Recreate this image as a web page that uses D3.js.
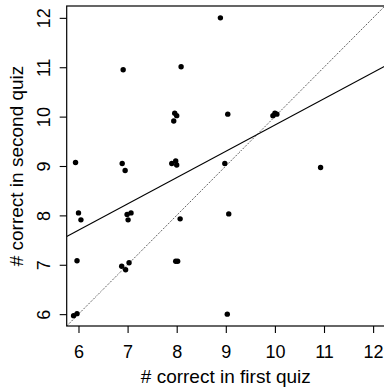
<!DOCTYPE html>
<html>
<head>
<meta charset="utf-8">
<script src="https://cdn.jsdelivr.net/npm/d3@7"></script>
<style>
  html, body { margin: 0; padding: 0; background: #fff; }
  svg { display: block; }
  text { font-family: "Liberation Sans", Arial, Helvetica, sans-serif; fill: #000; }
</style>
</head>
<body>
<svg id="chart" width="384" height="388"></svg>
<script>
// Scores on the two quizzes (slightly jittered so ties stay visible)
const firstQuiz  = [8.89, 6.91, 8.09, 7.96, 8.00, 7.94, 5.94, 6.89, 6.95, 7.90, 7.98, 8.00,
                    6.00, 6.05, 6.99, 7.07, 7.01, 8.07, 5.97, 6.88, 6.96, 7.03, 7.98, 8.02,
                    5.90, 5.97, 9.04, 9.96, 10.00, 10.04, 8.98, 10.93, 9.06, 9.03];
const secondQuiz = [12.00, 10.95, 11.01, 10.07, 10.02, 9.91, 9.07, 9.05, 8.91, 9.05, 9.10, 9.02,
                    8.05, 7.91, 8.02, 8.05, 7.91, 7.93, 7.08, 6.97, 6.90, 7.04, 7.07, 7.07,
                    5.97, 6.01, 10.05, 10.02, 10.07, 10.05, 9.05, 8.97, 8.03, 6.00];
const xTicks = [6, 7, 8, 9, 10, 11, 12];
const yTicks = [6, 7, 8, 9, 10, 11, 12];
const axisRange = [6, 12];
// least-squares fit: intercept, slope
const fitCoef = [4.51, 0.532];

const svg = d3.select("#chart");
const box = { left: 66.7, right: 384.9, top: 6, bottom: 326 };
const pad = 0.04 * (axisRange[1] - axisRange[0]);
const dom = [axisRange[0] - pad, axisRange[1] + pad];

const x = d3.scaleLinear().domain(dom).range([box.left, box.right]);
const y = d3.scaleLinear().domain(dom).range([box.bottom, box.top]);

svg.append("clipPath").attr("id", "plotclip")
  .append("rect")
  .attr("x", box.left).attr("y", box.top)
  .attr("width", box.right - box.left).attr("height", box.bottom - box.top);

const plot = svg.append("g").attr("clip-path", "url(#plotclip)");

// identity line y = x
plot.append("line")
  .attr("x1", x(dom[0])).attr("y1", y(dom[0]))
  .attr("x2", x(dom[1])).attr("y2", y(dom[1]))
  .attr("stroke", "#222").attr("stroke-width", 1)
  .attr("stroke-dasharray", "1,1.4");

// regression line
plot.append("line")
  .attr("x1", x(dom[0])).attr("y1", y(fitCoef[0] + fitCoef[1] * dom[0]))
  .attr("x2", x(dom[1])).attr("y2", y(fitCoef[0] + fitCoef[1] * dom[1]))
  .attr("stroke", "#000").attr("stroke-width", 1.1);

// points
plot.selectAll("circle")
  .data(d3.range(firstQuiz.length))
  .join("circle")
  .attr("cx", i => x(firstQuiz[i]))
  .attr("cy", i => y(secondQuiz[i]))
  .attr("r", 2.7)
  .attr("fill", "#000");

// frame
svg.append("rect")
  .attr("x", box.left).attr("y", box.top)
  .attr("width", box.right - box.left).attr("height", box.bottom - box.top)
  .attr("fill", "none").attr("stroke", "#000").attr("stroke-width", 1.2);

// x axis
const xAxis = svg.append("g")
  .attr("transform", `translate(0,${box.bottom})`)
  .call(d3.axisBottom(x).tickValues(xTicks).tickSize(7).tickSizeOuter(0).tickFormat(d3.format("d")));
xAxis.select(".domain").remove();
xAxis.selectAll("line").attr("stroke", "#000").attr("stroke-width", 1.1);
xAxis.selectAll("text")
  .attr("y", 32).attr("dy", 0)
  .style("font-size", "18px")
  .style("font-family", "'Liberation Sans', Arial, sans-serif");

// y axis with labels parallel to the axis
const yAxis = svg.append("g")
  .attr("transform", `translate(${box.left},0)`)
  .call(d3.axisLeft(y).tickValues(yTicks).tickSize(7).tickSizeOuter(0).tickFormat(d3.format("d")));
yAxis.select(".domain").remove();
yAxis.selectAll("line").attr("stroke", "#000").attr("stroke-width", 1.1);
yAxis.selectAll("text")
  .attr("x", null).attr("dy", null)
  .attr("transform", "translate(-16.7,0) rotate(-90)")
  .attr("text-anchor", "middle")
  .style("font-size", "18px")
  .style("font-family", "'Liberation Sans', Arial, sans-serif");

// axis titles
svg.append("text")
  .attr("x", (box.left + box.right) / 2)
  .attr("y", 383)
  .attr("text-anchor", "middle")
  .style("font-size", "19px")
  .text("# correct in first quiz");

svg.append("text")
  .attr("transform", `translate(23,${(box.top + box.bottom) / 2}) rotate(-90)`)
  .attr("text-anchor", "middle")
  .style("font-size", "19px")
  .text("# correct in second quiz");
</script>
</body>
</html>
